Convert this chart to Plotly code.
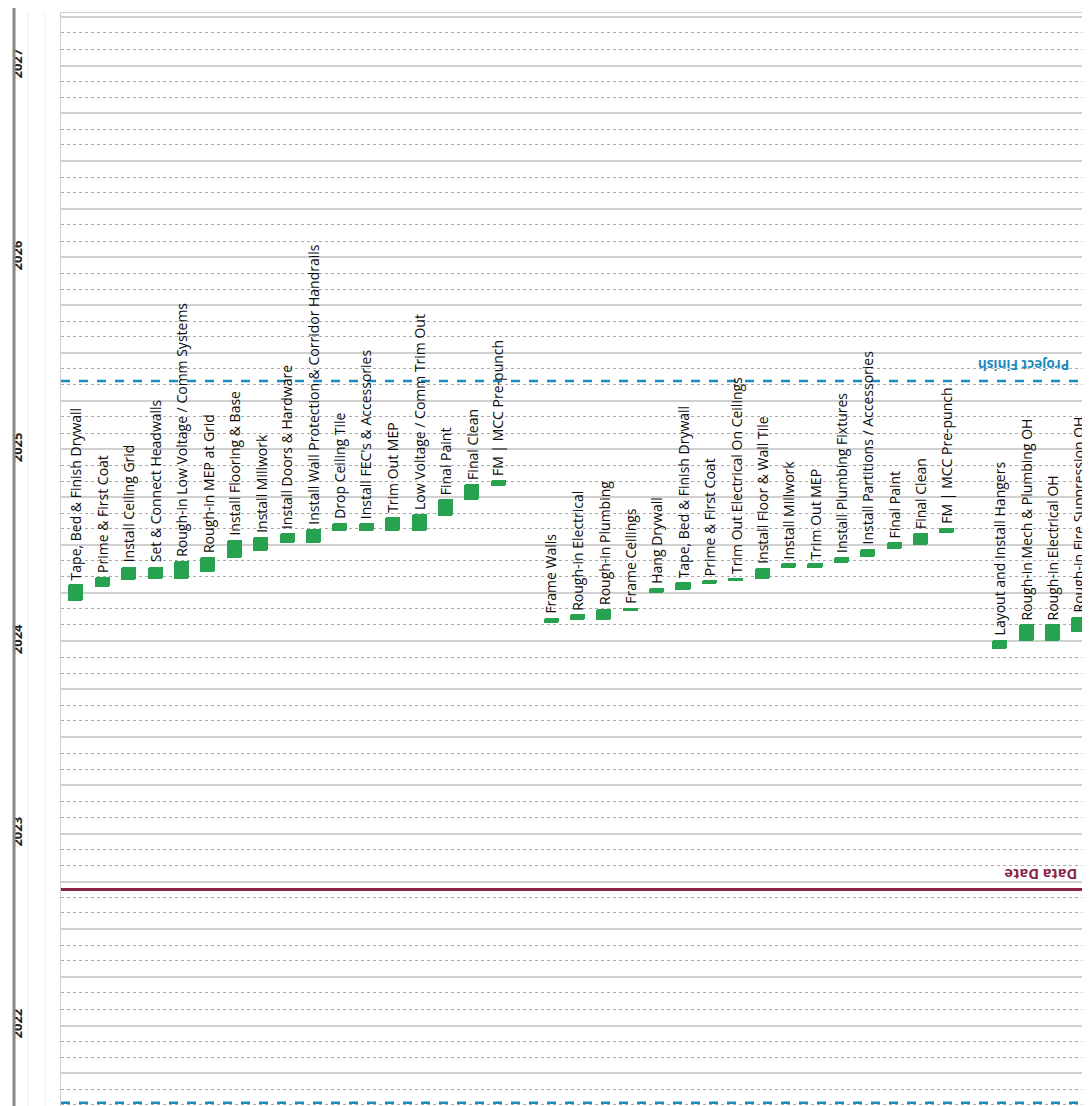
import plotly.graph_objects as go
import pandas as pd

# ---- data ----
tasks = [
    "Tape, Bed & Finish Drywall", "Prime & First Coat", "Install Ceiling Grid",
    "Set & Connect Headwalls", "Rough-in Low Voltage / Comm Systems", "Rough-in MEP at Grid",
    "Install Flooring & Base", "Install Millwork", "Install Doors & Hardware",
    "Install Wall Protection & Corridor Handrails", "Drop Ceiling Tile", "Install FEC's & Accessories",
    "Trim Out MEP", "Low Voltage / Comm Trim Out", "Final Paint", "Final Clean", "FM | MCC Pre-punch",
    "",
    "Frame Walls", "Rough-in Electrical", "Rough-in Plumbing", "Frame Ceilings", "Hang Drywall",
    "Tape, Bed & Finish Drywall", "Prime & First Coat", "Trim Out Electrical On Ceilings",
    "Install Floor & Wall Tile", "Install Millwork", "Trim Out MEP", "Install Plumbing Fixtures",
    "Install Partitions / Accessories", "Final Paint", "Final Clean", "FM | MCC Pre-punch",
    "",
    "Layout and Install Hangers", "Rough-in Mech & Plumbing OH", "Rough-in Electrical OH",
    "Rough-in Fire Suppression OH",
]
starts = [
    "2024-09-15", "2024-10-13", "2024-10-26", "2024-10-28", "2024-10-28", "2024-11-10",
    "2024-12-07", "2024-12-20", "2025-01-04", "2025-01-04", "2025-01-27", "2025-01-27",
    "2025-01-27", "2025-01-27", "2025-02-25", "2025-03-26", "2025-04-23",
    None,
    "2024-08-05", "2024-08-11", "2024-08-11", "2024-08-27", "2024-10-01", "2024-10-07",
    "2024-10-18", "2024-10-24", "2024-10-28", "2024-11-18", "2024-11-18", "2024-11-27",
    "2024-12-09", "2024-12-24", "2025-01-01", "2025-01-23",
    None,
    "2024-06-17", "2024-07-01", "2024-07-01", "2024-07-18",
]
ends = [
    "2024-10-17", "2024-11-01", "2024-11-20", "2024-11-20", "2024-11-30", "2024-12-09",
    "2025-01-10", "2025-01-16", "2025-01-23", "2025-01-31", "2025-02-11", "2025-02-11",
    "2025-02-22", "2025-02-28", "2025-03-29", "2025-04-27", "2025-05-04",
    None,
    "2024-08-15", "2024-08-21", "2024-08-31", "2024-09-03", "2024-10-11", "2024-10-21",
    "2024-10-26", "2024-10-30", "2024-11-18", "2024-11-26", "2024-11-26", "2024-12-09",
    "2024-12-24", "2025-01-05", "2025-01-23", "2025-02-02",
    None,
    "2024-07-04", "2024-08-02", "2024-08-02", "2024-08-17",
]
data_date = "2023-03-17"
project_finish = "2025-11-08"
project_start = "2022-02-04"
year_labels = ["2022", "2023", "2024", "2025", "2026", "2027"]

# ---- build ----
GREEN = "#27a24f"
BLUE = "#1e8bbf"
MAROON = "#8a2448"

xs, bases, durs, names, tops = [], [], [], [], []
for i, (n, s, e) in enumerate(zip(tasks, starts, ends)):
    if s is None:
        continue
    xs.append(i)
    bases.append(s)
    durs.append((pd.Timestamp(e) - pd.Timestamp(s)).total_seconds() * 1000)
    names.append(n)
    tops.append(e)

fig = go.Figure()
fig.add_trace(go.Bar(
    x=xs, y=durs, base=bases, width=0.57,
    marker=dict(color=GREEN, line=dict(width=0), cornerradius=2),
    hovertext=names, showlegend=False,
))

annotations = []
for x, n, e in zip(xs, names, tops):
    annotations.append(dict(
        x=x, y=e, xref="x", yref="y", text=n, textangle=-90, showarrow=False,
        xanchor="center", yanchor="bottom", yshift=2,
        font=dict(family="Open Sans", size=14, color="#0d0d0d"),
    ))

annotations.append(dict(
    x=0.936, xref="paper", y=project_finish, yref="y", text="<b>Project Finish</b>",
    textangle=180, showarrow=False, xanchor="center", yanchor="middle",
    yshift=16, font=dict(family="Open Sans", size=13.5, color=BLUE),
))
annotations.append(dict(
    x=0.952, xref="paper", y=data_date, yref="y", text="<b>Data Date</b>",
    textangle=180, showarrow=False, xanchor="center", yanchor="middle",
    yshift=15, font=dict(family="Open Sans", size=14.5, color=MAROON),
))

shapes = [
    dict(type="line", xref="paper", yref="y", x0=0, x1=1, y0=project_finish, y1=project_finish,
         line=dict(color=BLUE, width=2.5, dash="dash")),
    dict(type="line", xref="paper", yref="y", x0=0, x1=1, y0=project_start, y1=project_start,
         line=dict(color=BLUE, width=2.5, dash="dash")),
    dict(type="line", xref="paper", yref="y", x0=0, x1=1, y0=data_date, y1=data_date,
         line=dict(color=MAROON, width=3)),
    # label column borders
    dict(type="line", xref="paper", yref="paper", xsizemode="pixel", xanchor=0,
         x0=-47, x1=-47, y0=-0.02, y1=1.01, line=dict(color="#888", width=3)),
    dict(type="line", xref="paper", yref="paper", xsizemode="pixel", xanchor=0,
         x0=-33, x1=-33, y0=-0.02, y1=1.0, line=dict(color="#ececec", width=1)),
    dict(type="line", xref="paper", yref="paper", xsizemode="pixel", xanchor=0,
         x0=-16, x1=-16, y0=-0.02, y1=1.0, line=dict(color="#ececec", width=1)),
]

quarters = pd.date_range("2022-01-01", "2027-10-01", freq="QS")
tickvals = [q.strftime("%Y-%m-%d") for q in quarters]
ticktext = [f"<b>{q.year}</b>" if (q.month == 7 and str(q.year) in year_labels) else "" for q in quarters]

fig.update_layout(
    width=1082, height=1098,
    margin=dict(l=49, r=0, t=5, b=0),
    paper_bgcolor="white", plot_bgcolor="white",
    bargap=0, shapes=shapes, annotations=annotations,
    xaxis=dict(range=[-0.566, 38.42], showticklabels=False, showgrid=False, zeroline=False,
               showline=True, mirror=True, linecolor="#cfcfcf", linewidth=1),
    yaxis=dict(type="date", range=["2022-01-29", "2027-10-09"],
               tickmode="array", tickvals=tickvals, ticktext=ticktext, tickangle=-90,
               ticks="", ticklabelstandoff=33,
               tickfont=dict(family="Open Sans", size=13, color="#222"),
               showgrid=True, gridcolor="#d0d0d0", gridwidth=1.5,
               minor=dict(dtick="M1", tick0="2022-01-01", showgrid=True,
                          gridcolor="#aaaaaa", griddash="dot", gridwidth=1),
               zeroline=False, showline=True, linecolor="#cfcfcf", linewidth=1),
)

fig.write_html("out.html")
